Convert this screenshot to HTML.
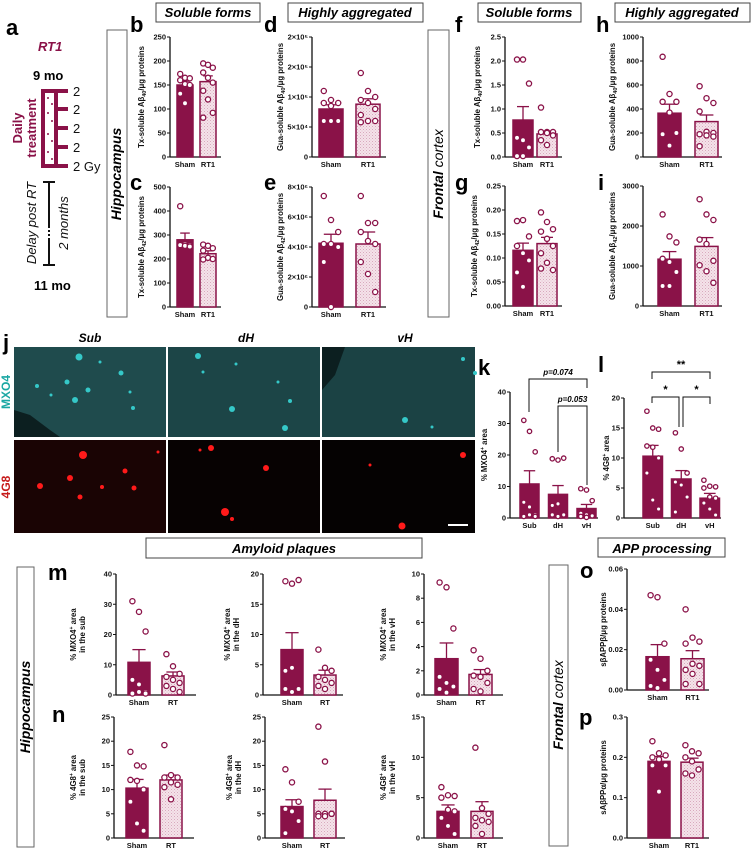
<!DOCTYPE html>
<html><head><meta charset="utf-8">
<style>
html,body{margin:0;padding:0;background:#fff;}
svg{display:block;font-family:"Liberation Sans",sans-serif;}
.tk{font-size:7.5px;font-weight:bold;fill:#111;}
.yt{font-size:7.8px;font-weight:bold;fill:#111;}
.pl{font-size:22px;font-weight:bold;fill:#000;}
.bx{font-size:13px;font-weight:bold;font-style:italic;fill:#000;}
</style></head>
<body>
<svg id="fig" width="753" height="849" viewBox="0 0 753 849">
<defs>
<pattern id="hatch" width="3" height="3" patternUnits="userSpaceOnUse">
<rect width="3" height="3" fill="#f4e3ea"/><rect width="1" height="1" fill="#d9a9bd"/><rect x="1.5" y="1.5" width="1" height="1" fill="#e3bccb"/>
</pattern>
</defs>

<!-- panel a -->
<g>
<text class="pl" x="6" y="35">a</text>
<text x="38" y="51" font-size="13" font-weight="bold" font-style="italic" fill="#8a1248">RT1</text>
<text x="33" y="80" font-size="13" font-weight="bold">9 mo</text>
<rect x="43" y="91" width="13" height="75" fill="#fff" stroke="#8a1248" stroke-width="4"/>
<g fill="#8a1248">
<rect x="56" y="89" width="12" height="4"/><rect x="56" y="107" width="12" height="4"/><rect x="56" y="126" width="12" height="4"/><rect x="56" y="145" width="12" height="4"/><rect x="56" y="164" width="12" height="4"/>
<circle cx="48" cy="98" r="1"/><circle cx="52" cy="104" r="1"/><circle cx="48" cy="113" r="1"/><circle cx="52" cy="121" r="1"/><circle cx="48" cy="134" r="1"/><circle cx="52" cy="141" r="1"/><circle cx="48" cy="152" r="1"/><circle cx="52" cy="159" r="1"/>
</g>
<g font-size="13" fill="#111">
<text x="73" y="96">2</text><text x="73" y="114">2</text><text x="73" y="133">2</text><text x="73" y="152">2</text><text x="73" y="171">2 Gy</text>
</g>
<text transform="translate(22,128) rotate(-90)" text-anchor="middle" font-size="13" font-weight="bold" fill="#8a1248"><tspan x="0" dy="0">Daily</tspan><tspan x="0" dy="14">treatment</tspan></text>
<g stroke="#111" stroke-width="2">
<line x1="49" y1="182" x2="49" y2="228"/><line x1="49" y1="230" x2="49" y2="240" stroke-dasharray="2 2"/><line x1="49" y1="240" x2="49" y2="265"/>
<line x1="43" y1="182" x2="55" y2="182"/><line x1="43" y1="265" x2="55" y2="265"/>
</g>
<text transform="translate(36,223) rotate(-90)" text-anchor="middle" font-size="13" font-style="italic" fill="#111">Delay post RT</text>
<text transform="translate(68,223) rotate(-90)" text-anchor="middle" font-size="13" font-style="italic" fill="#111">2 months</text>
<text x="34" y="290" font-size="13" font-weight="bold">11 mo</text>
</g>

<!-- region boxes -->
<rect x="107" y="30" width="20" height="287" fill="none" stroke="#666" stroke-width="1"/>
<text transform="translate(121,174) rotate(-90)" text-anchor="middle" font-size="14" font-weight="bold" font-style="italic">Hippocampus</text>
<rect x="428" y="30" width="21" height="287" fill="none" stroke="#666" stroke-width="1"/>
<text transform="translate(443,174) rotate(-90)" text-anchor="middle" font-size="14" font-weight="bold" font-style="italic"><tspan>Frontal</tspan><tspan font-weight="normal"> cortex</tspan></text>

<rect x="156" y="3" width="104" height="19" fill="none" stroke="#444"/>
<text class="bx" x="208" y="17" text-anchor="middle">Soluble forms</text>
<rect x="288" y="3" width="135" height="19" fill="none" stroke="#444"/>
<text class="bx" x="355" y="17" text-anchor="middle">Highly aggregated</text>
<rect x="478" y="3" width="103" height="19" fill="none" stroke="#444"/>
<text class="bx" x="529" y="17" text-anchor="middle">Soluble forms</text>
<rect x="615" y="3" width="135" height="19" fill="none" stroke="#444"/>
<text class="bx" x="682" y="17" text-anchor="middle">Highly aggregated</text>

<text class="pl" x="130" y="32">b</text>
<text class="pl" x="130" y="190">c</text>
<text class="pl" x="264" y="32">d</text>
<text class="pl" x="264" y="190">e</text>
<text class="pl" x="455" y="32">f</text>
<text class="pl" x="455" y="190">g</text>
<text class="pl" x="596" y="32">h</text>
<text class="pl" x="598" y="190">i</text>

<!-- panel j microscopy -->
<g>
<text class="pl" x="3" y="350">j</text>
<text x="90" y="342" text-anchor="middle" font-size="12" font-weight="bold" font-style="italic">Sub</text>
<text x="246" y="342" text-anchor="middle" font-size="12" font-weight="bold" font-style="italic">dH</text>
<text x="405" y="342" text-anchor="middle" font-size="12" font-weight="bold" font-style="italic">vH</text>
<text transform="translate(10,392) rotate(-90)" text-anchor="middle" font-size="12" font-weight="bold" fill="#1aa7a3">MXO4</text>
<text transform="translate(10,487) rotate(-90)" text-anchor="middle" font-size="12" font-weight="bold" fill="#c61a1a">4G8</text>
<rect x="14" y="347" width="152" height="90" fill="#1f4b4d"/>
<rect x="168" y="347" width="152" height="90" fill="#1c4547"/>
<rect x="322" y="347" width="153" height="90" fill="#1b4244"/>
<rect x="14" y="440" width="152" height="93" fill="#1a0404"/>
<rect x="168" y="440" width="152" height="93" fill="#070202"/>
<rect x="322" y="440" width="153" height="93" fill="#050202"/>
<path d="M14,410 L30,415 L50,430 L60,437 L14,437Z" fill="#0c1f20"/>
<path d="M322,347 L345,347 L335,375 L322,390Z" fill="#0c1f20"/>
<g fill="#35c8c8">
<circle cx="79" cy="357" r="3.5"/><circle cx="67" cy="382" r="2.5"/><circle cx="88" cy="390" r="2.5"/><circle cx="75" cy="400" r="3"/><circle cx="37" cy="386" r="2"/><circle cx="51" cy="395" r="1.5"/><circle cx="121" cy="373" r="2.5"/><circle cx="130" cy="392" r="1.5"/><circle cx="133" cy="408" r="2"/><circle cx="100" cy="362" r="1.5"/>
<circle cx="198" cy="356" r="3"/><circle cx="203" cy="372" r="1.5"/><circle cx="232" cy="409" r="3"/><circle cx="290" cy="401" r="2"/><circle cx="285" cy="428" r="3"/><circle cx="236" cy="364" r="1.5"/><circle cx="278" cy="382" r="1.5"/>
<circle cx="405" cy="420" r="3"/><circle cx="463" cy="359" r="2"/><circle cx="475" cy="373" r="2"/><circle cx="432" cy="427" r="1.5"/>
</g>
<g fill="#ff1a1a">
<circle cx="83" cy="455" r="4"/><circle cx="70" cy="478" r="3"/><circle cx="40" cy="486" r="3"/><circle cx="80" cy="497" r="2.5"/><circle cx="125" cy="471" r="2.5"/><circle cx="134" cy="488" r="2.5"/><circle cx="102" cy="487" r="2"/><circle cx="158" cy="452" r="1.5"/>
<circle cx="211" cy="448" r="3"/><circle cx="266" cy="468" r="3"/><circle cx="225" cy="512" r="4"/><circle cx="232" cy="519" r="2"/><circle cx="200" cy="450" r="1.5"/>
<circle cx="463" cy="455" r="3"/><circle cx="402" cy="526" r="3.5"/><circle cx="370" cy="465" r="1.5"/>
</g>
<rect x="448" y="524" width="20" height="2" fill="#fff"/>
</g>
<text class="pl" x="478" y="375">k</text>
<text class="pl" x="598" y="372">l</text>

<rect x="146" y="538" width="276" height="20" fill="none" stroke="#444"/>
<text class="bx" x="284" y="553" text-anchor="middle">Amyloid plaques</text>
<rect x="598" y="538" width="127" height="19" fill="none" stroke="#444"/>
<text class="bx" x="662" y="553" text-anchor="middle">APP processing</text>

<rect x="17" y="567" width="17" height="280" fill="none" stroke="#666"/>
<text transform="translate(30,707) rotate(-90)" text-anchor="middle" font-size="14" font-weight="bold" font-style="italic">Hippocampus</text>
<rect x="549" y="565" width="19" height="281" fill="none" stroke="#666"/>
<text transform="translate(563,705) rotate(-90)" text-anchor="middle" font-size="14" font-weight="bold" font-style="italic"><tspan>Frontal</tspan><tspan font-weight="normal"> cortex</tspan></text>
<text class="pl" x="48" y="580">m</text>
<text class="pl" x="52" y="722">n</text>
<text class="pl" x="580" y="578">o</text>
<text class="pl" x="579" y="725">p</text>

<g id="charts"></g>
</svg>
<script>
// ===== data =====
const groupCats = ['Sham','RT1'];
const groupCatsRT = ['Sham','RT'];
const regionCats = ['Sub','dH','vH'];

const bMeans=[150,157]; const bSems=[8,12];
const bPtsSham=[173,165,164,160,152,150,132,112]; const bPtsRT=[195,192,186,176,165,155,138,120,92,82];
const bTicks=[0,50,100,150,200,250]; const bTickLabels=['0','50','100','150','200','250'];

const cMeans=[280,222]; const cSems=[28,12];
const cPtsSham=[420,262,258,258,255,252]; const cPtsRT=[260,255,245,235,205,200,198];
const cTicks=[0,100,200,300,400,500]; const cTickLabels=['0','100','200','300','400','500'];

const dMeans=[80000,88000]; const dSems=[7000,9000];
const dPtsSham=[110000,95000,90000,90000,85000,60000,60000,60000]; const dPtsRT=[140000,110000,100000,95000,90000,80000,70000,60000,60000,58000];
const dTicks=[0,50000,100000,150000,200000]; const dTickLabels=['0','5×10⁴','1×10⁵','2×10⁵','2×10⁵'];

const eMeans=[4.25e6,4.2e6]; const eSems=[0.6e6,0.8e6];
const ePtsSham=[7.4e6,5.8e6,5.0e6,4.2e6,4.2e6,4.0e6,3.0e6,0]; const ePtsRT=[7.4e6,5.6e6,5.6e6,5.0e6,4.4e6,4.2e6,3.0e6,2.2e6,1.0e6];
const eTicks=[0,2e6,4e6,6e6,8e6]; const eTickLabels=['0','2×10⁶','4×10⁶','6×10⁶','8×10⁶'];

const fMeans=[0.77,0.48]; const fSems=[0.28,0.06];
const fPtsSham=[2.03,2.03,1.53,0.4,0.35,0.2,0.02,0.02]; const fPtsRT=[1.03,0.52,0.52,0.52,0.5,0.45,0.35,0.25];
const fTicks=[0,0.5,1,1.5,2,2.5]; const fTickLabels=['0.0','0.5','1.0','1.5','2.0','2.5'];

const hMeans=[365,295]; const hSems=[75,55];
const hPtsSham=[835,525,460,460,370,200,190,95]; const hPtsRT=[590,490,450,380,210,200,190,180,170,90];
const hTicks=[0,200,400,600,800,1000]; const hTickLabels=['0','200','400','600','800','1000'];

const gMeans=[0.116,0.13]; const gSems=[0.015,0.013];
const gPtsSham=[0.177,0.179,0.145,0.125,0.11,0.095,0.07,0.04]; const gPtsRT=[0.195,0.175,0.16,0.155,0.14,0.125,0.11,0.09,0.075,0.078];
const gTicks=[0,0.05,0.1,0.15,0.2,0.25]; const gTickLabels=['0.00','0.05','0.10','0.15','0.20','0.25'];

const iMeans=[1170,1490]; const iSems=[190,220];
const iPtsSham=[2290,1740,1590,1180,1100,850,500,500]; const iPtsRT=[2670,2290,2150,1660,1550,1130,1020,870,580];
const iTicks=[0,1000,2000,3000]; const iTickLabels=['0','1000','2000','3000'];

const kMeans=[10.8,7.5,3.0]; const kSems=[4.2,2.8,1.3];
const kPtsSub=[31,27.5,21,5,3.5,1,0.5,1,0.5]; const kPtsDH=[18.8,18.4,19,4,4.5,1,1,0.5]; const kPtsVH=[9.3,8.9,5.5,1.5,1,0.7,0.5,0.2];
const kTicks=[0,10,20,30,40]; const kTickLabels=['0','10','20','30','40'];

const lMeans=[10.3,6.5,3.3]; const lSems=[1.8,1.4,0.8];
const lPtsSub=[17.8,15,14.8,12,11.8,10,7.5,3,1.5]; const lPtsDH=[14.2,11.5,7.5,6,5.5,3.5,1]; const lPtsVH=[6.3,5.3,5.2,5,3.5,3.3,2.5,1.5,0.5];
const lTicks=[0,5,10,15,20]; const lTickLabels=['0','5','10','15','20'];

const m1Means=[10.8,6.3]; const m1Sems=[4.2,1.3];
const m1PtsRT=[13.5,9.5,7,6,5,4,3,2,1];
const m1Ticks=[0,10,20,30,40]; const m1TickLabels=['0','10','20','30','40'];
const m2Means=[7.5,3.3]; const m2Sems=[2.8,0.8];
const m2PtsRT=[7.5,4.5,4,3,2.5,2,1.5,1];
const m2Ticks=[0,5,10,15,20]; const m2TickLabels=['0','5','10','15','20'];
const m3Means=[3.0,1.7]; const m3Sems=[1.3,0.4];
const m3PtsRT=[3.7,3,2,1.6,1.5,1,0.5,0.3];
const m3Ticks=[0,2,4,6,8,10]; const m3TickLabels=['0','2','4','6','8','10'];

const n1Means=[10.3,12]; const n1Sems=[1.8,1];
const n1PtsRT=[19.2,13,12.5,12.5,11.5,11,10.5,8];
const n1Ticks=[0,5,10,15,20,25]; const n1TickLabels=['0','5','10','15','20','25'];
const n2Means=[6.5,7.8]; const n2Sems=[1.4,2.3];
const n2PtsRT=[23,15.8,5,5,5,5,4.5,4.5];
const n2Ticks=[0,5,10,15,20,25]; const n2TickLabels=['0','5','10','15','20','25'];
const n3Means=[3.3,3.3]; const n3Sems=[0.8,1.2];
const n3PtsRT=[11.2,3.7,3,2.5,2.2,2,1.5,0.5];
const n3Ticks=[0,5,10,15]; const n3TickLabels=['0','5','10','15'];

const oMeans=[0.0165,0.0155]; const oSems=[0.006,0.004];
const oPtsSham=[0.047,0.046,0.023,0.015,0.01,0.005,0.002,0.001]; const oPtsRT=[0.04,0.026,0.024,0.023,0.013,0.012,0.01,0.008,0.003,0.003];
const oTicks=[0,0.02,0.04,0.06]; const oTickLabels=['0.00','0.02','0.04','0.06'];
const pMeans=[0.19,0.188]; const pSems=[0.012,0.01];
const pPtsSham=[0.24,0.21,0.205,0.2,0.195,0.18,0.18,0.115]; const pPtsRT=[0.23,0.215,0.21,0.2,0.19,0.17,0.16,0.155];
const pTicks=[0,0.1,0.2,0.3]; const pTickLabels=['0.0','0.1','0.2','0.3'];

// ===== drawing =====
const NS='http://www.w3.org/2000/svg';
const MAROON='#8a1248';
const root=document.getElementById('charts');
function mk(tag,attrs,parent){const e=document.createElementNS(NS,tag);for(const k in attrs)e.setAttribute(k,attrs[k]);(parent||root).appendChild(e);return e;}

function chart(o){
  const g=mk('g',{});
  
  
  const max=o.ticks[o.ticks.length-1];
  const y=v=>o.y0-(v/max)*(o.y0-o.yTop);
  const ax=mk('line',{x1:o.ax,y1:o.yTop,x2:o.ax,y2:o.y0,stroke:'#111','stroke-width':1.3},g);
  
  
  const xl=mk('line',{x1:o.ax,y1:o.y0,x2:o.xEnd,y2:o.y0,stroke:'#111','stroke-width':1.3},g);
  
  
  o.ticks.forEach((t,i)=>{
    mk('line',{x1:o.ax-3,y1:y(t),x2:o.ax,y2:y(t),stroke:'#111','stroke-width':1},g);
    const tl=mk('text',{x:o.ax-4,y:y(t)+2.5,'text-anchor':'end',class:'tk'},g);
    tl.textContent=o.tickLabels[i];
    
    
  });
  o.means.forEach((m,i)=>{
    const bx=o.ax+o.off+i*o.step, cx=bx+o.w/2;
    const hatch=o.hatch&&o.hatch[i];
    const r=mk('rect',{x:bx,y:y(m),width:o.w,height:o.y0-y(m),fill:hatch?'url(#hatch)':MAROON,stroke:MAROON,'stroke-width':1.5},g);
    
    
    const s=o.sems[i];
    mk('line',{x1:cx,y1:y(m),x2:cx,y2:y(m+s),stroke:MAROON,'stroke-width':1.3},g);
    mk('line',{x1:cx-o.w*0.3,y1:y(m+s),x2:cx+o.w*0.3,y2:y(m+s),stroke:MAROON,'stroke-width':1.3},g);
    const pts=o.pts[i];
    pts.forEach((v,j)=>{
      const dx=((j%3)-1)*o.w*0.3;
      const c=mk('circle',{cx:cx+dx,cy:y(v),r:o.r||2.6,fill:'#fff',stroke:MAROON,'stroke-width':1.3},g);
      
      
    });
    const lb=mk('text',{x:cx,y:o.y0+10,'text-anchor':'middle',class:'tk','font-size':'8px'},g);
    lb.textContent=o.cats[i];
    
    
  });
  const yt=mk('text',{transform:`translate(${o.ax-o.tOff},${(o.yTop+o.y0)/2}) rotate(-90)`,'text-anchor':'middle',class:'yt'},g);
  yt.innerHTML=o.title;
  
  
  return {g,y};
}
const sub=s=>`<tspan font-size="5.5px" dy="2">${s}</tspan><tspan dy="-2">`;
const A40='Aβ'+sub('40')+'/μg proteins</tspan>';
const A42='Aβ'+sub('42')+'/μg proteins</tspan>';
const HB=[false,true], HB3=[false,false,false];

chart({name:'chart-b',ax:170,yTop:37,y0:157,off:7,w:16,step:23,xEnd:221,ticks:bTicks,tickLabels:bTickLabels,means:bMeans,sems:bSems,pts:[bPtsSham,bPtsRT],cats:groupCats,hatch:HB,title:'Tx-soluble '+A40,tOff:26});
chart({name:'chart-c',ax:170,yTop:187,y0:307,off:7,w:16,step:23,xEnd:221,ticks:cTicks,tickLabels:cTickLabels,means:cMeans,sems:cSems,pts:[cPtsSham,cPtsRT],cats:groupCats,hatch:HB,title:'Tx-soluble '+A42,tOff:26});
chart({name:'chart-d',ax:312,yTop:37,y0:157,off:7,w:24,step:37,xEnd:386,ticks:dTicks,tickLabels:dTickLabels,means:dMeans,sems:dSems,pts:[dPtsSham,dPtsRT],cats:groupCats,hatch:HB,title:'Gua-soluble '+A40,tOff:29});
chart({name:'chart-e',ax:312,yTop:187,y0:307,off:7,w:24,step:37,xEnd:386,ticks:eTicks,tickLabels:eTickLabels,means:eMeans,sems:eSems,pts:[ePtsSham,ePtsRT],cats:groupCats,hatch:HB,title:'Gua-soluble '+A42,tOff:29});
chart({name:'chart-f',ax:505,yTop:37,y0:157,off:8,w:20,step:24,xEnd:562,ticks:fTicks,tickLabels:fTickLabels,means:fMeans,sems:fSems,pts:[fPtsSham,fPtsRT],cats:groupCats,hatch:HB,title:'Tx-soluble '+A40,tOff:25});
chart({name:'chart-g',ax:505,yTop:186,y0:306,off:8,w:20,step:24,xEnd:562,ticks:gTicks,tickLabels:gTickLabels,means:gMeans,sems:gSems,pts:[gPtsSham,gPtsRT],cats:groupCats,hatch:HB,title:'Tx-soluble '+A42,tOff:28});
chart({name:'chart-h',ax:643,yTop:37,y0:157,off:15,w:23,step:37,xEnd:722,ticks:hTicks,tickLabels:hTickLabels,means:hMeans,sems:hSems,pts:[hPtsSham,hPtsRT],cats:groupCats,hatch:HB,title:'Gua-soluble '+A40,tOff:28});
chart({name:'chart-i',ax:643,yTop:186,y0:306,off:15,w:23,step:37,xEnd:722,ticks:iTicks,tickLabels:iTickLabels,means:iMeans,sems:iSems,pts:[iPtsSham,iPtsRT],cats:groupCats,hatch:HB,title:'Gua-soluble '+A42,tOff:28});

const k=chart({name:'chart-k',ax:510,yTop:392,y0:518,off:10,w:19,step:28.5,xEnd:598,ticks:kTicks,tickLabels:kTickLabels,means:kMeans,sems:kSems,pts:[kPtsSub,kPtsDH,kPtsVH],cats:regionCats,hatch:HB3,title:'% MXO4<tspan font-size="5px" dy="-3">+</tspan><tspan dy="3"> area</tspan>',tOff:23,r:2.2});
const l=chart({name:'chart-l',ax:624,yTop:398,y0:518,off:19,w:19.5,step:28.5,xEnd:721,ticks:lTicks,tickLabels:lTickLabels,means:lMeans,sems:lSems,pts:[lPtsSub,lPtsDH,lPtsVH],cats:regionCats,hatch:HB3,title:'% 4G8<tspan font-size="5px" dy="-3">+</tspan><tspan dy="3"> area</tspan>',tOff:15,r:2.2});
// significance brackets
function bracket(g,x1,x2,yb,y1,y2,label,italic){
  const p=mk('path',{d:`M${x1},${y1} V${yb} H${x2} V${y2}`,fill:'none',stroke:'#111','stroke-width':1},g);
  
  
  const t=mk('text',{x:(x1+x2)/2,y:yb-4,'text-anchor':'middle','font-size':italic?'8px':'11px','font-weight':'bold','font-style':italic?'italic':'normal'},g);
  t.textContent=label;
  
  
}
bracket(k.g,529,587,379,412,388,'p=0.074',true);
bracket(k.g,558,587,406,452,485,'p=0.053',true);
bracket(l.g,652,710,372,379,379,'**',false);
bracket(l.g,652,679,397,403,427,'*',false);
bracket(l.g,683,710,397,427,404,'*',false);

const mt=(a,b)=>`<tspan x="0" dy="-4">% ${a}<tspan font-size="5px" dy="-3">+</tspan><tspan dy="3"> area</tspan></tspan><tspan x="0" dy="9">in the ${b}</tspan>`;
chart({name:'chart-m-sub',ax:116,yTop:574,y0:695,off:12,w:22,step:34,xEnd:196,ticks:m1Ticks,tickLabels:m1TickLabels,means:m1Means,sems:m1Sems,pts:[kPtsSub,m1PtsRT],cats:groupCatsRT,hatch:HB,title:mt('MXO4','sub'),tOff:36});
chart({name:'chart-m-dh',ax:263,yTop:574,y0:695,off:18,w:22,step:33,xEnd:343,ticks:m2Ticks,tickLabels:m2TickLabels,means:m2Means,sems:m2Sems,pts:[kPtsDH,m2PtsRT],cats:groupCatsRT,hatch:HB,title:mt('MXO4','dH'),tOff:29});
chart({name:'chart-m-vh',ax:424,yTop:574,y0:695,off:11,w:23,step:34,xEnd:503,ticks:m3Ticks,tickLabels:m3TickLabels,means:m3Means,sems:m3Sems,pts:[kPtsVH,m3PtsRT],cats:groupCatsRT,hatch:HB,title:mt('MXO4','vH'),tOff:34});
chart({name:'chart-n-sub',ax:114,yTop:717,y0:838,off:12,w:22,step:34,xEnd:194,ticks:n1Ticks,tickLabels:n1TickLabels,means:n1Means,sems:n1Sems,pts:[lPtsSub,n1PtsRT],cats:groupCatsRT,hatch:HB,title:mt('4G8','sub'),tOff:34});
chart({name:'chart-n-dh',ax:265,yTop:717,y0:838,off:16,w:22,step:33,xEnd:345,ticks:n2Ticks,tickLabels:n2TickLabels,means:n2Means,sems:n2Sems,pts:[lPtsDH,n2PtsRT],cats:groupCatsRT,hatch:HB,title:mt('4G8','dH'),tOff:29});
chart({name:'chart-n-vh',ax:424,yTop:717,y0:838,off:13,w:22,step:34,xEnd:503,ticks:n3Ticks,tickLabels:n3TickLabels,means:n3Means,sems:n3Sems,pts:[lPtsVH,n3PtsRT],cats:groupCatsRT,hatch:HB,title:mt('4G8','vH'),tOff:34});
chart({name:'chart-o',ax:627,yTop:569,y0:690,off:19,w:23,step:35,xEnd:709,ticks:oTicks,tickLabels:oTickLabels,means:oMeans,sems:oSems,pts:[oPtsSham,oPtsRT],cats:groupCats,hatch:HB,title:'sβAPPβ/μg proteins',tOff:21});
chart({name:'chart-p',ax:627,yTop:717,y0:838,off:21,w:22,step:33,xEnd:709,ticks:pTicks,tickLabels:pTickLabels,means:pMeans,sems:pSems,pts:[pPtsSham,pPtsRT],cats:groupCats,hatch:HB,title:'sAβPPα/μg proteins',tOff:21});
</script>
</body></html>
